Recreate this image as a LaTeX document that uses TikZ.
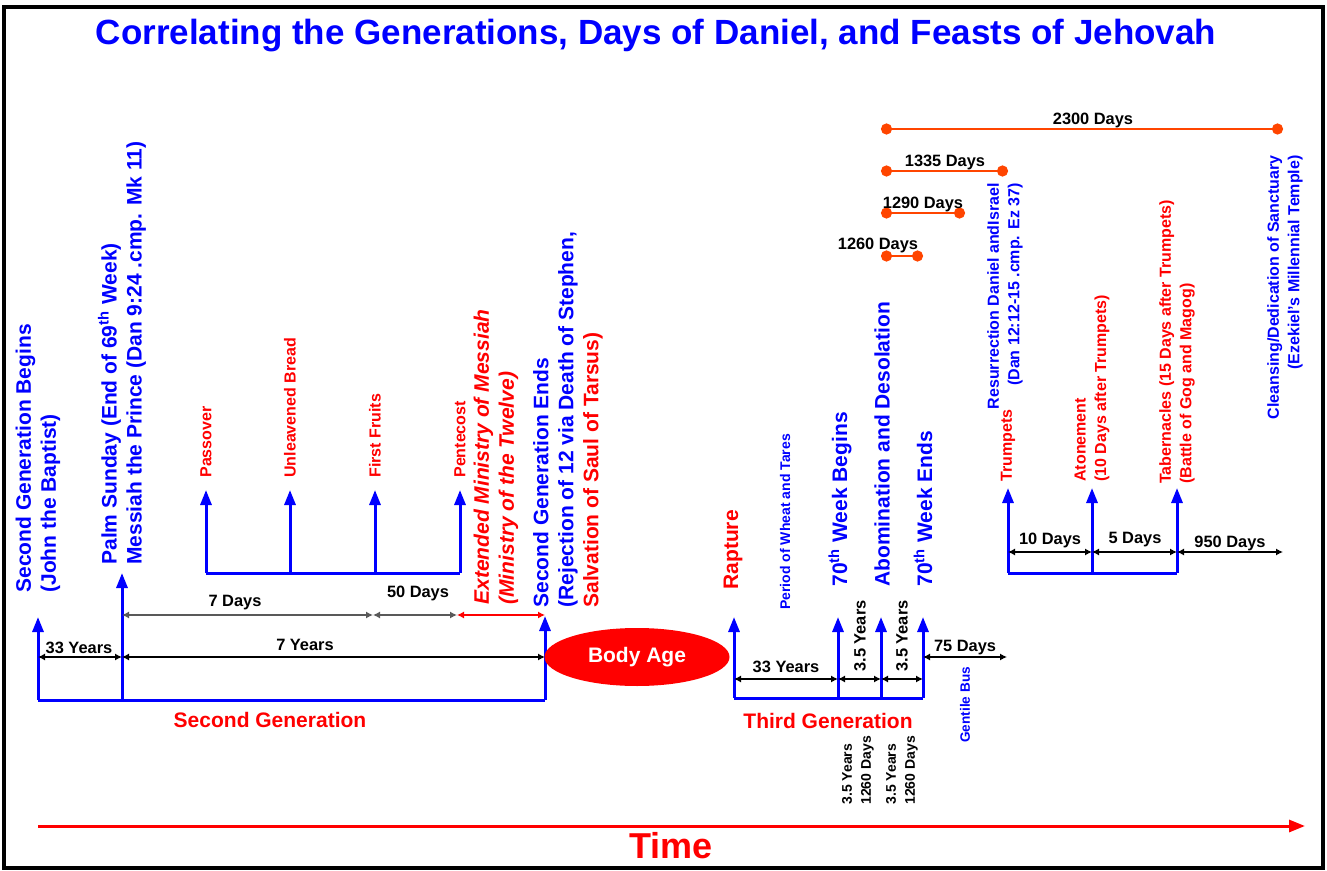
\documentclass[tikz,border=0pt]{standalone}
\usepackage{fontspec}
\setmainfont{Liberation Sans}
\usetikzlibrary{arrows.meta,shapes.geometric}
\definecolor{pblue}{RGB}{0,0,255}
\definecolor{pred}{RGB}{255,0,0}
\definecolor{porange}{RGB}{255,69,0}

\begin{document}
\begin{tikzpicture}[x=0.5pt,y=-0.5pt,
        up arrow/.style={color=pblue,line width=1.5pt,-{Triangle[width=5.5pt,length=7.5pt]}},
        base line/.style={color=pblue,line width=1.5pt},
        dim line/.style={color=black,line width=0.6pt,{Latex[length=3.5pt,width=3.5pt]}-{Latex[length=3.5pt,width=3.5pt]}},
        day line/.style={color=porange,line width=1.4pt,{Circle[length=5.5pt]}-{Circle[length=5.5pt]}},
        vlabel/.style={rotate=90,anchor=west,inner sep=0pt,align=left},
        big text/.style={font=\fontsize{10.5}{12.5}\selectfont\bfseries},
        feast text/.style={font=\fontsize{8}{10.3}\selectfont\bfseries},
        dim text/.style={font=\fontsize{8.2}{10}\selectfont\bfseries,inner sep=0pt}]

    \useasboundingbox (0,0) rectangle (1327,871);
    \draw[line width=2pt] (4,7) rectangle (1323,868);

    \node[anchor=base,text=pblue,font=\fontsize{17.5}{20}\selectfont\bfseries] (title) at (656,45)
        {Correlating the Generations, Days of Daniel, and Feasts of Jehovah};

    % second generation
    \coordinate (sg0) at (38,700);  \coordinate (sg1) at (38,617);
    \coordinate (ps0) at (122,700); \coordinate (ps1) at (122,573);
    \coordinate (se0) at (545,700); \coordinate (se1) at (545,616);
    \path[base line] (sg0) edge (se0);
    \path[up arrow] (sg0) edge (sg1)
        (ps0) edge (ps1)
        (se0) edge (se1);

    \coordinate (d1) at (38,657);  \coordinate (d2) at (122,657); \coordinate (d3) at (545,657);
    \coordinate (e1) at (122,615); \coordinate (e2) at (373,615);
    \coordinate (e3) at (457,615); \coordinate (e4) at (545,615);
    \path[dim line] (d1) edge (d2)
        (d2) edge (d3);
    \path[dim line,color=black!65] (e1) edge (e2)
        (e2) edge (e3);
    \path[dim line,color=pred] (e3) edge (e4);
    \node[dim text] (y33a) at (79,648) {33 Years};
    \node[dim text] (y7) at (305,645) {7 Years};
    \node[dim text] (d7) at (235,603) {7 Days};
    \node[dim text] (d50) at (418,593) {50 Days};

    \node[vlabel,big text,text=pblue] (sgb) at (38,593) {Second Generation Begins\\(John the Baptist)};
    \node[vlabel,big text,text=pblue] (palm) at (122,565)
        {Palm Sunday (End of 69\textsuperscript{th} Week)\\Messiah the Prince (Dan 9:24 .cmp. Mk 11)};
    \node[vlabel,big text,text=pred,font=\fontsize{10.5}{12.5}\selectfont\bfseries\itshape] (ext) at (496,605)
        {Extended Ministry of Messiah\\(Ministry of the Twelve)};
    \node[vlabel,big text,text=pblue] (sge) at (568,608)
        {Second Generation Ends\\(Rejection of 12 via Death of Stephen,\\\textcolor{pred}{Salvation of Saul of Tarsus)}};
    \node[big text,text=pred] (sgen) at (270,720) {Second Generation};

    % spring feasts
    \coordinate (f0) at (206,573); \coordinate (f1) at (206,490);
    \coordinate (u0) at (290,573); \coordinate (u1) at (290,490);
    \coordinate (r0) at (375,573); \coordinate (r1) at (375,490);
    \coordinate (p0) at (460,573); \coordinate (p1) at (460,490);
    \path[base line] (f0) edge (p0);
    \path[up arrow] (f0) edge (f1)
        (u0) edge (u1)
        (r0) edge (r1)
        (p0) edge (p1);
    \node[vlabel,feast text,text=pred] (pass) at (206,478) {Passover};
    \node[vlabel,feast text,text=pred] (unl) at (290,478) {Unleavened Bread};
    \node[vlabel,feast text,text=pred] (ffr) at (375,478) {First Fruits};
    \node[vlabel,feast text,text=pred] (pent) at (460,478) {Pentecost};

    \node[ellipse,fill=pred,minimum width=92.5pt,minimum height=29pt,inner sep=0pt,text=white,big text] (body) at (637,657) {Body Age};

    % third generation
    \coordinate (ra0) at (734,698); \coordinate (ra1) at (734,617);
    \coordinate (wb0) at (838,698); \coordinate (wb1) at (838,617);
    \coordinate (ab0) at (881,698); \coordinate (ab1) at (881,617);
    \coordinate (we0) at (923,698); \coordinate (we1) at (923,617);
    \path[base line] (ra0) edge (we0);
    \path[up arrow] (ra0) edge (ra1)
        (wb0) edge (wb1)
        (ab0) edge (ab1)
        (we0) edge (we1);

    \coordinate (t1) at (734,679); \coordinate (t2) at (838,679);
    \coordinate (t3) at (881,679); \coordinate (t4) at (923,679);
    \coordinate (g1) at (923,657); \coordinate (g2) at (1007,657);
    \path[dim line] (t1) edge (t2)
        (t2) edge (t3)
        (t3) edge (t4)
        (g1) edge (g2);
    \node[dim text] (y33b) at (786,667) {33 Years};
    \node[vlabel,dim text] (h1) at (860,672) {3.5 Years};
    \node[vlabel,dim text] (h2) at (902,672) {3.5 Years};
    \node[dim text] (d75) at (965,648) {75 Days};

    \node[vlabel,big text,text=pred] (rapt) at (733,590) {Rapture};
    \node[vlabel,font=\fontsize{7}{9}\selectfont\bfseries,text=pblue] (wheat) at (785,610) {Period of Wheat and Tares};
    \node[vlabel,big text,text=pblue] (wkb) at (840,587) {70\textsuperscript{th} Week Begins};
    \node[vlabel,big text,text=pblue] (abom) at (882,587) {Abomination and Desolation};
    \node[vlabel,big text,text=pblue] (wke) at (923,587) {70\textsuperscript{th} Week Ends};
    \node[big text,text=pred] (tgen) at (828,721) {Third Generation};
    \node[vlabel,font=\fontsize{7}{9.5}\selectfont\bfseries] (k1) at (858,805) {3.5 Years\\1260 Days};
    \node[vlabel,font=\fontsize{7}{9.5}\selectfont\bfseries] (k2) at (902,805) {3.5 Years\\1260 Days};
    \node[vlabel,font=\fontsize{6.8}{9}\selectfont\bfseries,text=pblue] (bus) at (965,743) {Gentile Bus};

    % days of daniel
    \coordinate (o0) at (881,129); \coordinate (o1) at (1283,129);
    \coordinate (o2) at (881,171); \coordinate (o3) at (1008,171);
    \coordinate (o4) at (881,213); \coordinate (o5) at (965,213);
    \coordinate (o6) at (881,256); \coordinate (o7) at (923,256);
    \path[day line] (o0) edge (o1)
        (o2) edge (o3)
        (o4) edge (o5)
        (o6) edge (o7);
    \node[dim text] (n2300) at (1093,120) {2300 Days};
    \node[dim text] (n1335) at (945,162) {1335 Days};
    \node[dim text] (n1290) at (923,204) {1290 Days};
    \node[dim text] (n1260) at (878,245) {1260 Days};

    % fall feasts
    \coordinate (tr0) at (1008,573); \coordinate (tr1) at (1008,488);
    \coordinate (at0) at (1092,573); \coordinate (at1) at (1092,488);
    \coordinate (tb0) at (1177,573); \coordinate (tb1) at (1177,488);
    \coordinate (m4) at (1283,552);
    \path[base line] (tr0) edge (tb0);
    \path[up arrow] (tr0) edge (tr1)
        (at0) edge (at1)
        (tb0) edge (tb1);
    \coordinate (m1) at (1008,552); \coordinate (m2) at (1092,552); \coordinate (m3) at (1177,552);
    \path[dim line] (m1) edge (m2)
        (m2) edge (m3)
        (m3) edge (m4);
    \node[dim text] (d10) at (1050,540) {10 Days};
    \node[dim text] (d5) at (1135,540) {5 Days};
    \node[dim text] (d950) at (1230,543) {950 Days};

    \node[vlabel,feast text,text=pred] (trum) at (1008,482) {Trumpets};
    \node[vlabel,feast text,text=pblue,anchor=east,align=right] (res) at (1005,183)
        {Resurrection Daniel andIsrael\\(Dan 12:12-15 .cmp. Ez 37)};
    \node[vlabel,feast text,text=pred] (aton) at (1092,482) {Atonement\\(10 Days after Trumpets)};
    \node[vlabel,feast text,text=pred] (tab) at (1177,484) {Tabernacles (15 Days after Trumpets)\\(Battle of Gog and Magog)};
    \node[vlabel,feast text,text=pblue,anchor=east,align=right] (clean) at (1285,155)
        {Cleansing/Dedication of Sanctuary\\(Ezekiel's Millennial Temple)};

    % time
    \coordinate (tm0) at (38,826); \coordinate (tm1) at (1305,826);
    \path[color=pred,line width=1.5pt,-{Triangle[width=6pt,length=8pt]}] (tm0) edge (tm1);
    \node[anchor=base,text=pred,font=\fontsize{18}{20}\selectfont\bfseries] (time) at (671,858) {Time};
\end{tikzpicture}
\end{document}
